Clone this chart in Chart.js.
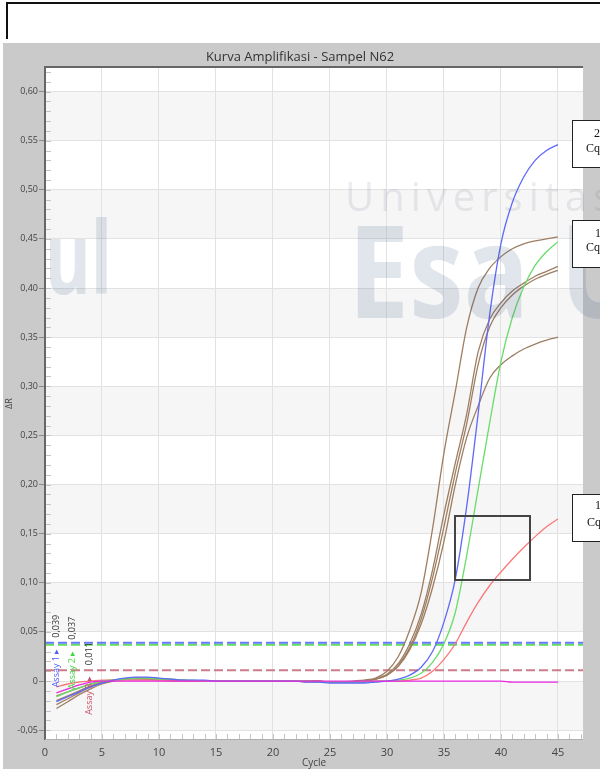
<!DOCTYPE html>
<html>
<head>
<meta charset="utf-8">
<script src="https://cdn.jsdelivr.net/npm/chart.js@4.4.1/dist/chart.umd.min.js"></script>
<style>
html,body{margin:0;padding:0;background:#fff;width:600px;height:769px;overflow:hidden;position:relative;font-family:"Open Sans","Noto Sans",sans-serif}
#frame{position:absolute;left:6px;top:2px;width:620px;height:35px;border-top:2px solid #111;border-left:2px solid #111}
#panel{position:absolute;left:3px;top:43px;width:597px;height:726px;background:#cacaca}
#title{position:absolute;left:0;top:48px;width:600px;text-align:center;font-size:13px;line-height:17px;color:#333}
#wrap{position:absolute;left:0;top:0;width:600px;height:769px}
#wmbox{position:absolute;left:45px;top:67px;width:555px;height:673px;overflow:hidden;pointer-events:none}
.wm{position:absolute;white-space:nowrap;line-height:1;pointer-events:none}
.cb{position:absolute;left:572px;width:40px;box-sizing:border-box;border:1.5px solid #222;background:#fff}
.ct{position:absolute;font-family:"Liberation Serif",serif;font-size:12px;line-height:14px;color:#111;white-space:nowrap}
#zoombox{position:absolute;left:454px;top:515px;width:77px;height:66px;box-sizing:border-box;border:2px solid #444}
</style>
</head>
<body>
<div id="frame"></div>
<div id="panel"></div>
<div id="wrap"><canvas id="c" width="600" height="769"></canvas></div>
<div id="title">Kurva Amplifikasi - Sampel N62</div>

<div id="wmbox">
  <div class="wm" style="left:300px;top:109px;font-size:40px;letter-spacing:6px;color:rgba(100,110,130,0.13)">Universitas</div>
  <div class="wm" style="left:303px;top:136px;font-size:130px;font-weight:700;color:rgba(40,70,120,0.14);transform:scaleX(0.84);transform-origin:left top">Esa</div>
  <div class="wm" style="left:515px;top:136px;font-size:130px;font-weight:700;color:rgba(40,70,120,0.14);transform:scaleX(0.84);transform-origin:left top">U</div>
  <div class="wm" style="right:488px;top:138px;font-size:100px;font-weight:700;color:rgba(40,70,120,0.14);transform:scaleX(0.7);transform-origin:right top">ggul</div>
</div>

<div id="zoombox"></div>
<div class="cb" style="top:120px;height:48px"></div>
<div class="ct" style="left:594px;top:126px">2</div>
<div class="ct" style="left:586px;top:141px">Cq</div>
<div class="cb" style="top:220px;height:48px"></div>
<div class="ct" style="left:595px;top:226px">1</div>
<div class="ct" style="left:586px;top:240px">Cq</div>
<div class="cb" style="top:494px;height:48px"></div>
<div class="ct" style="left:595px;top:498px">1</div>
<div class="ct" style="left:587px;top:515px">Cq</div>

<script>
// ---- data ----
const cycles = [1,2,3,4,5,6,7,8,9,10,11,12,13,14,15,16,17,18,19,20,21,22,23,24,25,26,27,28,29,30,31,32,33,34,35,36,37,38,39,40,41,42,43,44,45];

const assay1Blue = [-0.021,-0.016,-0.011,-0.006,-0.002,0.001,0.003,0.004,0.004,0.003,0.002,0.001,0.001,0.001,0.000,0.000,0.000,0.000,0.000,0.000,0.000,0.000,-0.001,-0.001,-0.002,-0.002,-0.002,-0.002,-0.001,0.000,0.002,0.006,0.014,0.030,0.060,0.104,0.178,0.272,0.372,0.445,0.487,0.513,0.530,0.540,0.546];
const assay2Green = [-0.016,-0.011,-0.007,-0.003,0.000,0.001,0.002,0.003,0.003,0.002,0.002,0.001,0.001,0.000,0.000,0.000,0.000,0.000,0.000,0.000,0.000,0.000,0.000,-0.001,-0.001,-0.001,-0.001,-0.001,0.000,0.000,0.001,0.003,0.008,0.019,0.038,0.070,0.128,0.195,0.262,0.325,0.370,0.401,0.423,0.437,0.447];
const assay3Red = [-0.006,-0.003,-0.001,0.000,0.001,0.001,0.001,0.001,0.001,0.001,0.000,0.000,0.000,0.000,0.000,0.000,0.000,0.000,0.000,0.000,0.000,0.000,-0.001,-0.001,-0.001,-0.001,-0.001,-0.001,0.000,0.000,0.000,0.001,0.003,0.010,0.022,0.038,0.060,0.080,0.097,0.111,0.124,0.136,0.147,0.157,0.165];
const ntcMagenta = [-0.012,-0.008,-0.004,-0.001,0.000,0.000,0.000,0.000,0.000,0.000,0.000,0.000,0.000,0.000,0.000,0.000,0.000,0.000,0.000,0.000,0.000,0.000,0.000,0.000,0.000,0.000,0.000,0.000,0.000,0.000,0.000,0.000,0.000,0.000,0.000,0.000,0.000,0.000,0.000,0.000,-0.001,-0.001,-0.001,-0.001,-0.001];
const brown1 = [-0.028,-0.021,-0.014,-0.008,-0.003,0.000,0.002,0.003,0.003,0.002,0.002,0.001,0.000,0.000,0.000,0.000,0.000,0.000,0.000,0.000,0.000,0.000,0.000,0.000,-0.001,-0.001,0.000,0.001,0.003,0.010,0.025,0.052,0.090,0.155,0.232,0.295,0.360,0.400,0.420,0.432,0.440,0.445,0.448,0.450,0.452];
const brown2 = [-0.020,-0.015,-0.010,-0.005,-0.001,0.001,0.002,0.003,0.002,0.002,0.001,0.001,0.000,0.000,0.000,0.000,0.000,0.000,0.000,0.000,0.000,0.000,0.000,0.000,-0.001,-0.001,-0.001,0.000,0.002,0.007,0.018,0.038,0.068,0.113,0.170,0.222,0.272,0.335,0.368,0.385,0.397,0.405,0.412,0.417,0.422];
const brown3 = [-0.015,-0.011,-0.007,-0.003,0.000,0.001,0.002,0.002,0.002,0.001,0.001,0.000,0.000,0.000,0.000,0.000,0.000,0.000,0.000,0.000,0.000,0.000,0.000,0.000,-0.001,-0.001,-0.001,0.000,0.002,0.006,0.015,0.032,0.058,0.095,0.142,0.200,0.248,0.280,0.308,0.322,0.331,0.338,0.343,0.347,0.350];
const brown4 = [-0.024,-0.018,-0.012,-0.006,-0.002,0.000,0.002,0.003,0.003,0.002,0.001,0.001,0.000,0.000,0.000,0.000,0.000,0.000,0.000,0.000,0.000,0.000,0.000,0.000,-0.001,-0.001,-0.001,0.000,0.002,0.006,0.016,0.034,0.063,0.105,0.157,0.212,0.262,0.322,0.360,0.380,0.393,0.402,0.409,0.414,0.418];

const thresholdValues = [0.039, 0.037, 0.011];
const thresholdText = ['0,039', '0,037', '0,011'];
const thresholdAssay = ['Assay 1 \u25B8', 'Assay 2 \u25B8', 'Assay 3 \u25B8'];
const thresholdLabelCycle = [1, 2.4, 3.9];

const xTicks = [0,5,10,15,20,25,30,35,40,45];
const yTicks = [-0.05,0,0.05,0.10,0.15,0.20,0.25,0.30,0.35,0.40,0.45,0.50,0.55,0.60];
const xRange = [0, 47.2];
const yRange = [-0.06, 0.625];

// ---- styles ----
const FONT = '"Open Sans","Noto Sans",sans-serif';
const cBlue = 'rgb(95,105,250)', cGreen = 'rgb(105,220,105)', cRed = 'rgb(250,120,120)', cMag = 'rgb(235,40,225)', cBrown = 'rgb(158,126,98)';
const thrColors = ['rgba(90,105,255,0.9)', 'rgba(80,215,80,0.9)', 'rgba(200,110,125,0.9)'];
const thrTextColors = ['rgb(80,90,250)', 'rgb(60,215,60)', 'rgb(200,80,105)'];

function pts(arr){ return cycles.map((c,i)=>({x:c, y:arr[i]})); }
function curve(arr, color){
  return {data: pts(arr), borderColor: color, borderWidth: 1.3, pointRadius: 0, fill: false, cubicInterpolationMode: 'monotone'};
}
function thr(i){
  return {data: [{x:xRange[0], y:thresholdValues[i]}, {x:xRange[1], y:thresholdValues[i]}], borderColor: thrColors[i], borderWidth: 2, borderDash: [9,4], pointRadius: 0, fill: false};
}

const datasets = [
  curve(ntcMagenta, cMag),
  curve(assay1Blue, cBlue),
  curve(assay2Green, cGreen),
  curve(assay3Red, cRed),
  curve(brown1, cBrown),
  curve(brown2, cBrown),
  curve(brown3, cBrown),
  curve(brown4, cBrown),
  thr(0), thr(1), thr(2)
];

const decor = {
  id: 'decor',
  beforeDraw(chart){
    const {ctx, chartArea:a, scales:{y}} = chart;
    ctx.save();
    ctx.fillStyle = '#ffffff';
    ctx.fillRect(a.left, a.top, a.width, a.height);
    ctx.fillStyle = '#f6f6f6';
    for (let i = 0; i < yTicks.length - 1; i += 2) {
      const t = y.getPixelForValue(yTicks[i+1]), b = y.getPixelForValue(yTicks[i]);
      ctx.fillRect(a.left, t, a.width, b - t);
    }
    ctx.restore();
  },
  beforeDatasetsDraw(chart){
    const {ctx, chartArea:a, scales:{x,y}} = chart;
    ctx.save();
    ctx.strokeStyle = '#c4c4c4';
    ctx.lineWidth = 1;
    ctx.beginPath();
    for (let c = 1; c < xRange[1]; c++) {
      const px = Math.round(x.getPixelForValue(c)) + 0.5;
      ctx.moveTo(px, a.bottom); ctx.lineTo(px, a.bottom - 6);
    }
    for (let k = -5; k <= 62; k++) {
      const py = Math.round(y.getPixelForValue(k / 100)) + 0.5;
      ctx.moveTo(a.left, py); ctx.lineTo(a.left + 6, py);
    }
    ctx.stroke();
    ctx.restore();
  },
  afterDatasetsDraw(chart){
    const {ctx, chartArea:a, scales:{x,y}} = chart;
    ctx.save();
    ctx.strokeStyle = '#666';
    ctx.lineWidth = 2;
    ctx.beginPath();
    ctx.moveTo(a.left, a.bottom); ctx.lineTo(a.left, a.top); ctx.lineTo(a.right, a.top);
    ctx.stroke();
    ctx.strokeStyle = '#b0b0b0';
    ctx.lineWidth = 1;
    ctx.beginPath();
    ctx.moveTo(a.left, a.bottom - 0.5); ctx.lineTo(a.right, a.bottom - 0.5);
    ctx.stroke();
    ctx.font = '9px ' + FONT;
    ctx.textBaseline = 'middle';
    for (let i = 0; i < thresholdValues.length; i++) {
      const px = x.getPixelForValue(thresholdLabelCycle[i]);
      const py = y.getPixelForValue(thresholdValues[i]);
      ctx.save();
      ctx.translate(px, py - 5);
      ctx.rotate(-Math.PI / 2);
      ctx.textAlign = 'left';
      ctx.fillStyle = '#333';
      ctx.fillText(thresholdText[i], 0, 0);
      ctx.restore();
      ctx.save();
      ctx.translate(px, py + 6);
      ctx.rotate(-Math.PI / 2);
      ctx.textAlign = 'right';
      ctx.fillStyle = thrTextColors[i];
      ctx.fillText(thresholdAssay[i], 0, 0);
      ctx.restore();
    }
    ctx.restore();
  }
};

new Chart(document.getElementById('c'), {
  type: 'line',
  data: { datasets },
  plugins: [decor],
  options: {
    responsive: false,
    animation: false,
    layout: { padding: { left: 4, top: 67, right: 17, bottom: 0 } },
    plugins: { legend: { display: false }, tooltip: { enabled: false }, title: { display: false } },
    scales: {
      x: {
        type: 'linear', min: xRange[0], max: xRange[1],
        afterBuildTicks: s => { s.ticks = xTicks.map(v => ({value: v})); },
        afterFit: s => { s.height = 29; },
        grid: { color: '#e2e2e2', drawTicks: false },
        border: { display: false },
        ticks: { color: '#444', font: { size: 11, family: FONT }, padding: 6, maxRotation: 0, autoSkip: false },
        title: { display: true, text: 'Cycle', color: '#444', font: { size: 10, family: FONT }, padding: 0 }
      },
      y: {
        type: 'linear', min: yRange[0], max: yRange[1],
        afterBuildTicks: s => { s.ticks = yTicks.map(v => ({value: v})); },
        afterFit: s => { s.width = 41; },
        grid: { color: '#e2e2e2', tickLength: 6, tickColor: '#8a8a8a' },
        border: { display: false },
        ticks: { color: '#444', font: { size: 9, family: FONT }, padding: 1, autoSkip: false,
          callback: v => v === 0 ? '0' : v.toFixed(2).replace('.', ',') },
        title: { display: true, text: '\u0394R', color: '#444', font: { size: 9, family: FONT }, padding: { top: 0, bottom: 0 } }
      }
    }
  }
});
</script>
</body>
</html>
